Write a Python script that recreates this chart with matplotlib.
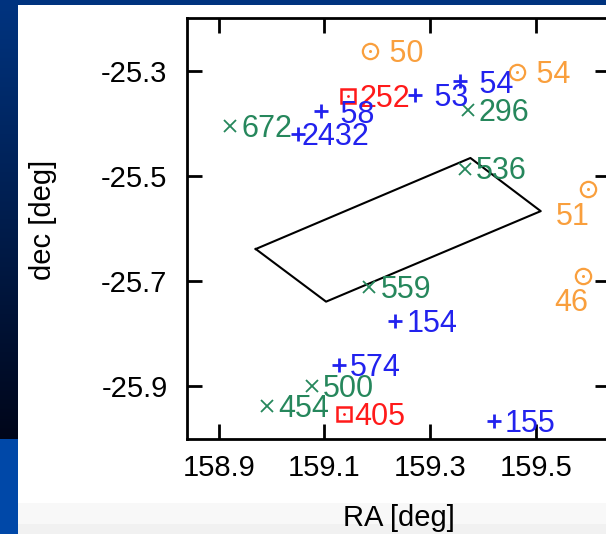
import numpy as np
import matplotlib
matplotlib.use("Agg")
import matplotlib.pyplot as plt
from matplotlib.patches import Rectangle

plt.rcParams['font.family'] = ['Liberation Sans', 'DejaVu Sans']

# ---------------- data ----------------
orange_ra = [159.186, 159.465, 159.598, 159.588]
orange_dec = [-25.263, -25.303, -25.525, -25.691]
orange_lbl = [" 50", " 54", "51", "46"]

red_ra = [159.145, 159.136]
red_dec = [-25.349, -25.952]
red_lbl = ["252", "405"]

blue_ra = [159.093, 159.050, 159.272, 159.356, 159.234, 159.128, 159.420]
blue_dec = [-25.377, -25.420, -25.346, -25.319, -25.775, -25.860, -25.965]
blue_lbl = [" 58", "2432", " 53", " 54", "154", "574", "155"]

green_ra = [158.922, 159.371, 159.365, 159.185, 159.076, 158.992]
green_dec = [-25.406, -25.375, -25.486, -25.712, -25.900, -25.938]
green_lbl = ["672", "296", "536", "559", "500", "454"]

poly_ra = [158.970, 159.103, 159.509, 159.376, 158.970]
poly_dec = [-25.639, -25.739, -25.567, -25.466, -25.639]

xticks = [158.9, 159.1, 159.3, 159.5]
yticks = [-25.9, -25.7, -25.5, -25.3]

# label offsets in pixels (dx, dy down), ha
orange_off = [(11, 0, 'left'), (11, 0, 'left'), (2, 25, 'right'), (6, 24, 'right')]
red_off = [(11, 0, 'left'), (11, 0, 'left')]
blue_off = [(11, 1, 'left'), (3, 0, 'left'), (11, 0, 'left'), (11, 1, 'left'),
            (11, 0, 'left'), (11, 0, 'left'), (11, 0, 'left')]
green_off = [(11, 0, 'left')] * 6

C_OR = '#f99f3d'
C_RED = '#ff1a1a'
C_BLUE = '#2222ee'
C_GREEN = '#26875c'

W, H = 606, 534
fig = plt.figure(figsize=(W / 100, H / 100), dpi=100)

# ---------------- background ----------------
bg = fig.add_axes([0, 0, 1, 1], zorder=-10)
bg.set_xlim(0, W)
bg.set_ylim(H, 0)
bg.axis('off')
top = np.array([0, 52, 128]) / 255
bot = np.array([0, 6, 26]) / 255
t = np.linspace(0, 1, 200)[:, None]
grad = (top[None, :] * (1 - t) + bot[None, :] * t)[:, None, :]
bg.imshow(grad, extent=(0, 18, 439, 0), aspect='auto', interpolation='bilinear')
bg.add_patch(Rectangle((0, 0), W, 5, color='#00337f', lw=0))
bg.add_patch(Rectangle((0, 439), 18, H - 439, color='#0048a8', lw=0))
bg.add_patch(Rectangle((18, 5), W - 18, 498, color='white', lw=0))
bg.add_patch(Rectangle((18, 503), W - 18, 21, color='#f8f8f8', lw=0))
bg.add_patch(Rectangle((18, 524), W - 18, 10, color='#f1f1f1', lw=0))

# ---------------- main axes ----------------
ax = fig.add_axes([187 / W, (H - 439) / H, 423 / W, 421 / H])
ax.set_xlim(158.84, 159.64)
ax.set_ylim(-26.0, -25.2)
ax.set_facecolor('white')
for s in ax.spines.values():
    s.set_linewidth(2.0)
ax.set_xticks(xticks)
ax.set_yticks(yticks)
ax.set_xticklabels([f"{v:.1f}" for v in xticks])
ax.set_yticklabels([f"{v:.1f}" for v in yticks])
ax.tick_params(direction='in', length=10.5, width=2.0, top=True, right=True,
               labelsize=21, colors='black')
ax.tick_params(axis='x', pad=11)
ax.tick_params(axis='y', pad=14)

ax.plot(poly_ra, poly_dec, color='black', lw=1.5)

ax.plot(orange_ra, orange_dec, 'o', ms=11.0, mfc='none', mec=C_OR, mew=1.6, ls='none')
ax.plot(orange_ra, orange_dec, 'o', ms=2.2, mfc=C_OR, mec=C_OR, mew=0, ls='none')
ax.plot(red_ra, red_dec, 's', ms=9.6, mfc='none', mec=C_RED, mew=1.8, ls='none')
ax.plot(red_ra, red_dec, 'o', ms=2.0, mfc=C_RED, mec=C_RED, mew=0, ls='none')
ax.plot(blue_ra, blue_dec, '+', ms=10, mec=C_BLUE, mew=2.0, ls='none')
ax.plot(green_ra, green_dec, 'x', ms=8.5, mec=C_GREEN, mew=1.3, ls='none')

FS = 22
base = -0.358 * FS * 100 / 72  # baseline offset so digits are vertically centered

def label(xs, ys, lbls, offs, color):
    for x, y, s, (dx, dy, ha) in zip(xs, ys, lbls, offs):
        ax.annotate(s, (x, y), xytext=(dx, base - dy), textcoords='offset pixels',
                    ha=ha, va='baseline', fontsize=FS, color=color,
                    annotation_clip=False)

label(orange_ra, orange_dec, orange_lbl, orange_off, C_OR)
label(red_ra, red_dec, red_lbl, red_off, C_RED)
label(blue_ra, blue_dec, blue_lbl, blue_off, C_BLUE)
label(green_ra, green_dec, green_lbl, green_off, C_GREEN)

ax.set_xlabel("RA [deg]", fontsize=21)
ax.set_ylabel("dec [deg]", fontsize=21)
ax.xaxis.set_label_coords(0.5, -0.188)
ax.xaxis.label.set_va('center')
ax.yaxis.set_label_coords(-0.340, 0.520)
ax.yaxis.label.set_va('center')

fig.savefig("out.png", dpi=100)
